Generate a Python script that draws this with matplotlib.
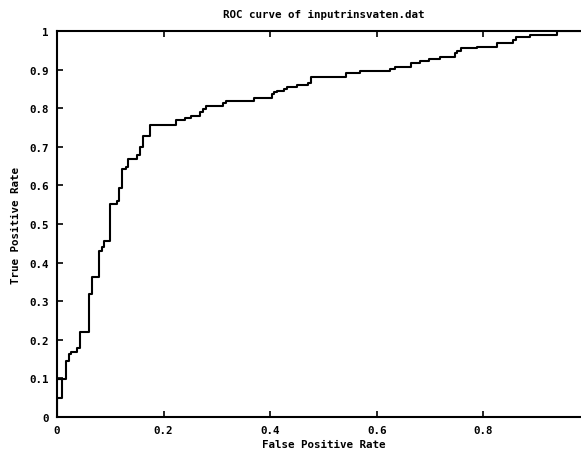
import matplotlib
matplotlib.use("Agg")
import matplotlib.pyplot as plt

# ROC points (staircase corners)
fpr = [0.0, 0.0, 0.0094, 0.0, 0.0169, 0.0225, 0.0263, 0.0370, 0.0432, 0.0606,
       0.0662, 0.0788, 0.0839, 0.0882, 0.0994, 0.1120, 0.1169, 0.1225, 0.1289,
       0.1338, 0.1507, 0.1557, 0.1608, 0.1745, 0.2233, 0.2402, 0.2523, 0.2683,
       0.2734, 0.2790, 0.3120, 0.3165, 0.3696, 0.4028, 0.4071, 0.4122, 0.4259,
       0.4315, 0.4508, 0.4709, 0.4765, 0.5422, 0.5694, 0.6248, 0.6341, 0.6642,
       0.6811, 0.6985, 0.7186, 0.7467, 0.7505, 0.7589, 0.7880, 0.8255, 0.8546,
       0.8612, 0.8874, 0.9381, 1.0]
tpr = [0.0, 0.0492, 0.0984, 0.0984, 0.1451, 0.1632, 0.1692, 0.1788, 0.2210, 0.3187,
       0.3627, 0.4308, 0.4412, 0.4567, 0.5518, 0.5604, 0.5925, 0.6425, 0.6477,
       0.6684, 0.6788, 0.7003, 0.7272, 0.7573, 0.7702, 0.7746, 0.7798, 0.7909,
       0.7979, 0.8065, 0.8135, 0.8179, 0.8264, 0.8355, 0.8412, 0.8453, 0.8497,
       0.8541, 0.8601, 0.8653, 0.8808, 0.8899, 0.8951, 0.9016, 0.9080, 0.9171,
       0.9215, 0.9262, 0.9339, 0.9422, 0.9482, 0.9547, 0.9585, 0.9689, 0.9775,
       0.9832, 0.9902, 1.0, 1.0]

x_ticks = [0, 0.2, 0.4, 0.6, 0.8]
x_labels = ["0", "0.2", "0.4", "0.6", "0.8"]
y_ticks = [0, 0.1, 0.2, 0.3, 0.4, 0.5, 0.6, 0.7, 0.8, 0.9, 1.0]
y_labels = ["0", "0.1", "0.2", "0.3", "0.4", "0.5", "0.6", "0.7", "0.8", "0.9", "1"]

plt.rcParams['font.family'] = ['DejaVu Sans Mono']
plt.rcParams['font.weight'] = 'bold'
fs = 7.8

fig = plt.figure(figsize=(5.81, 4.52), dpi=100)
# plot box runs past the right edge, like the cropped original
ax = fig.add_axes([57 / 581, 34 / 452, 533 / 581, 386 / 452])

ax.plot(fpr, tpr, drawstyle='steps-post', color='black', lw=1.5)

ax.set_xlim(0, 1)
ax.set_ylim(0, 1)
ax.set_xticks(x_ticks)
ax.set_xticklabels(x_labels, fontsize=fs, fontweight='bold')
ax.set_yticks(y_ticks)
ax.set_yticklabels(y_labels, fontsize=fs, fontweight='bold')
ax.tick_params(direction='in', length=4, width=1.2, top=True, right=True)
ax.tick_params(axis='x', pad=5.5)
ax.tick_params(axis='y', pad=6)

for s in ax.spines.values():
    s.set_linewidth(1.5)

ax.set_xlabel('False Positive Rate', fontsize=fs, fontweight='bold', labelpad=3)
ax.set_ylabel('True Positive Rate', fontsize=fs, fontweight='bold', labelpad=6)
ax.set_title('ROC curve of inputrinsvaten.dat', fontsize=fs, fontweight='bold', pad=10)

fig.savefig('out.png', dpi=100)
